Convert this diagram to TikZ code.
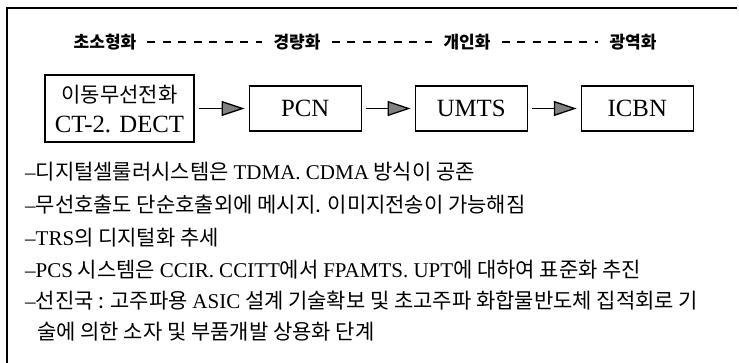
\documentclass[tikz,border=0pt]{standalone}
\usepackage{fontspec}
\setmainfont{Noto Sans CJK KR}
\newfontfamily\latbody[Scale=1.0]{Liberation Serif}
\newfontfamily\latbox[Scale=1.18]{Liberation Serif}
\usetikzlibrary{arrows.meta,positioning}
\newcommand{\en}[1]{{\latbody #1}}
\newcommand{\enbox}[1]{{\latbox #1}}
\newcommand{\headfont}{\fontsize{17}{19}\selectfont\bfseries}
\newcommand{\bodyfont}{\fontsize{21}{30}\selectfont}
\tikzset{
  stage/.style={font=\headfont, inner xsep=11pt, inner ysep=2pt},
  hdash/.style={line width=1.5pt, dash pattern=on 8pt off 7.5pt},
  stagebox/.style={draw, line width=1.1pt, minimum width=112pt, minimum height=45pt, inner sep=0pt, font=\bodyfont, align=center},
  flow/.style={line width=1.3pt, -{Triangle[length=23pt,width=15pt,fill=black!50]}, shorten <=4pt, shorten >=4pt},
  memo/.style={anchor=west, inner sep=0pt, font=\bodyfont},
}

\begin{document}
\begin{tikzpicture}[x=1pt,y=-1pt]
		%%%%% START %%%%%
		\useasboundingbox (0,0) rectangle (739,363);
		
		\draw[line width=1.4pt] (737,8) -- (7,8) -- (7,363);
		
		\node[stage] (h1) at (105,42) {초소형화};
		\node[stage] (h2) at (297,42) {경량화};
		\node[stage] (h3) at (467,42) {개인화};
		\node[stage] (h4) at (633,42) {광역화};
		\draw[hdash] (h1) -- (h2);
		\draw[hdash] (h2) -- (h3);
		\draw[hdash] (h3) -- (h4);
		
		\node[stagebox, minimum width=149pt, minimum height=67pt] (b1) at (119.5,108.5) {이동무선전화\\\enbox{CT-2. DECT}};
		\node[stagebox, right=54pt of b1] (b2) {\enbox{PCN}};
		\node[stagebox, right=53pt of b2] (b3) {\enbox{UMTS}};
		\node[stagebox, right=53pt of b3] (b4) {\enbox{ICBN}};
		\draw[flow] (b1) -- (b2);
		\draw[flow] (b2) -- (b3);
		\draw[flow] (b3) -- (b4);
		
		\node[memo] (l1) at (25,172) {\en{–}디지털셀룰러시스템은 \en{TDMA. CDMA} 방식이 공존};
		\node[memo] (l2) at (25,205) {\en{–}무선호출도 단순호출외에 메시지. 이미지전송이 가능해짐};
		\node[memo] (l3) at (25,238) {\en{–TRS}의 디지털화 추세};
		\node[memo] (l4) at (25,270) {\en{–PCS} 시스템은 \en{CCIR. CCITT}에서 \en{FPAMTS. UPT}에 대하여 표준화 추진};
		\node[memo] (l5) at (25,301) {\en{–}선진국 : 고주파용 \en{ASIC} 설계 기술확보 및 초고주파 화합물반도체 집적회로 기};
		\node[memo] (l6) at (37,332) {술에 의한 소자 및 부품개발 상용화 단계};
		%%%%% END %%%%%
\end{tikzpicture}
\end{document}
